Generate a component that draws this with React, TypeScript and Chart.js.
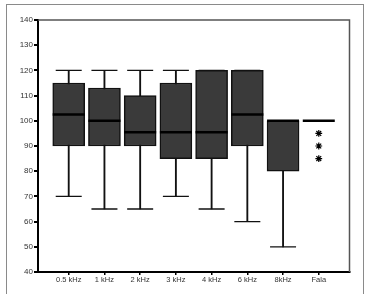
import React, { useEffect, useRef } from "react";
import { Chart, registerables } from "chart.js";

Chart.register(...registerables);

const categories = ["0.5 kHz", "1 kHz", "2 kHz", "3 kHz", "4 kHz", "6 kHz", "8kHz", "Fala"];
const whiskerLow: (number | null)[] = [70, 65, 65, 70, 65, 60, 50, null];
const quartile1: (number | null)[] = [90, 90, 90, 85, 85, 90, 80, null];
const medians: (number | null)[] = [102.5, 100, 95.5, 95.5, 95.5, 102.5, 100, 100];
const quartile3: (number | null)[] = [115, 113, 110, 115, 120, 120, 100, null];
const whiskerHigh: (number | null)[] = [120, 120, 120, 120, 120, 120, 100, null];
const outliers: number[][] = [[], [], [], [], [], [], [], [95, 90, 85]];
const yTicks = [40, 50, 60, 70, 80, 90, 100, 110, 120, 130, 140];

const FONT = "'Liberation Sans', Arial, sans-serif";

const framePlugin = {
  id: "frame",
  afterDatasetsDraw(chart: any) {
    const { ctx, chartArea } = chart;
    ctx.save();
    ctx.strokeStyle = "#555";
    ctx.lineWidth = 1.5;
    ctx.beginPath();
    ctx.moveTo(chartArea.left, chartArea.top);
    ctx.lineTo(chartArea.right, chartArea.top);
    ctx.lineTo(chartArea.right, chartArea.bottom);
    ctx.stroke();
    ctx.restore();
  },
};

export default function App() {
  const ref = useRef<HTMLCanvasElement>(null);
  useEffect(() => {
    const whiskers = categories
      .map((_, i) => (whiskerLow[i] != null ? { x: i, y: [whiskerLow[i], whiskerHigh[i]] } : null))
      .filter(Boolean);
    const boxes = categories
      .map((_, i) => (quartile1[i] != null ? { x: i, y: [quartile1[i], quartile3[i]] } : null))
      .filter(Boolean);
    const caps: any[] = [];
    categories.forEach((_, i) => {
      if (whiskerLow[i] != null) caps.push({ x: i, y: whiskerLow[i] });
      if (whiskerHigh[i] != null) caps.push({ x: i, y: whiskerHigh[i] });
    });
    const meds = categories
      .map((_, i) => (medians[i] != null ? { x: i, y: medians[i] } : null))
      .filter(Boolean);
    const outs: any[] = [];
    outliers.forEach((arr, i) => arr.forEach((v) => outs.push({ x: i, y: v })));

    const chart = new Chart(ref.current!, {
      type: "bar",
      data: {
        datasets: [
          {
            type: "bar",
            data: whiskers as any,
            backgroundColor: "#111",
            barThickness: 1.2,
            grouped: false,
            order: 5,
          } as any,
          {
            type: "bar",
            data: boxes as any,
            backgroundColor: "#3a3a3a",
            borderColor: "#111",
            borderWidth: 1.5,
            borderSkipped: false,
            barThickness: 32,
            grouped: false,
            order: 4,
          } as any,
          {
            type: "scatter",
            data: caps,
            pointStyle: "line",
            pointRadius: 13,
            borderColor: "#111",
            borderWidth: 1.3,
            order: 3,
          } as any,
          {
            type: "scatter",
            data: meds,
            pointStyle: "line",
            pointRadius: 16,
            borderColor: "#000",
            borderWidth: 2.5,
            order: 2,
          } as any,
          {
            type: "scatter",
            data: outs,
            pointStyle: "star",
            pointRadius: 3.4,
            borderColor: "#000",
            backgroundColor: "#000",
            borderWidth: 1.2,
            order: 1,
          } as any,
        ],
      },
      options: {
        responsive: false,
        animation: false,
        devicePixelRatio: 1,
        layout: { padding: { left: 0, top: 20, right: 16, bottom: 0 } },
        plugins: { legend: { display: false }, tooltip: { enabled: false } },
        scales: {
          x: {
            type: "linear",
            min: -0.86,
            max: 7.86,
            offset: false,
            grid: { offset: false, drawOnChartArea: false, drawTicks: true, tickLength: 3, tickColor: "#000", lineWidth: 1.5 },
            border: { color: "#000", width: 2 },
            afterBuildTicks: (s: any) => {
              s.ticks = categories.map((_, i) => ({ value: i }));
            },
            afterFit: (s: any) => {
              s.height = 22;
            },
            ticks: {
              autoSkip: false,
              maxRotation: 0,
              padding: 0,
              color: "#333",
              font: { family: FONT, size: 7.5 },
              callback: (v: any) => categories[Math.round(Number(v))] ?? "",
            },
          } as any,
          y: {
            type: "linear",
            min: 40,
            max: 140,
            beginAtZero: false,
            grid: { drawOnChartArea: false, drawTicks: true, tickLength: 4, tickColor: "#000", lineWidth: 2 },
            border: { color: "#000", width: 2 },
            afterBuildTicks: (s: any) => {
              s.ticks = yTicks.map((v) => ({ value: v }));
            },
            afterFit: (s: any) => {
              s.width = 38;
            },
            ticks: {
              padding: 1,
              color: "#333",
              font: { family: FONT, size: 8 },
            },
          } as any,
        },
      },
      plugins: [framePlugin],
    });
    return () => chart.destroy();
  }, []);

  return (
    <div style={{ position: "fixed", left: 0, top: 0, width: 368, height: 294, background: "#fff", overflow: "hidden" }}>
      <canvas ref={ref} width={368} height={294} style={{ position: "absolute", left: 0, top: 0, display: "block" }} />
      <div
        style={{
          position: "absolute",
          left: 6,
          top: 4,
          width: 356,
          height: 310,
          border: "1.5px solid #8a8a8a",
          pointerEvents: "none",
        }}
      />
    </div>
  );
}
